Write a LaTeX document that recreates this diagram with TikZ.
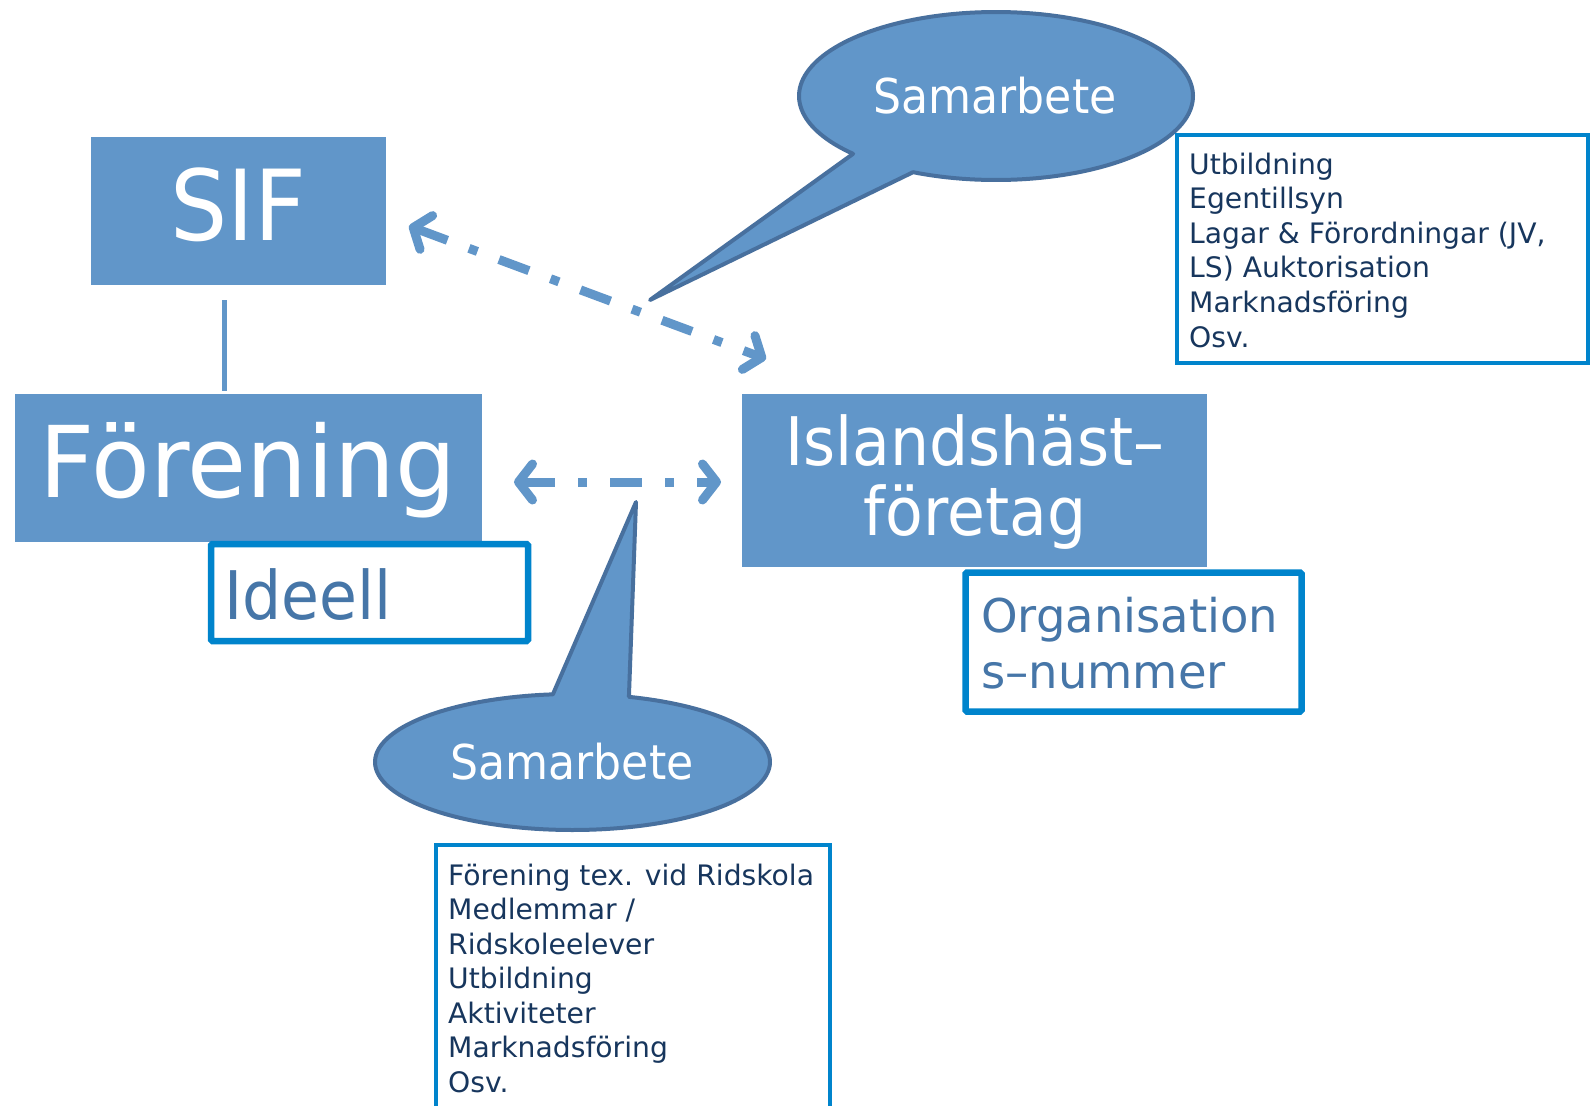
\documentclass[tikz,border=0pt]{standalone}
\usepackage{fontspec}
\setmainfont{DejaVu Sans}
\newfontfamily\bigf{DejaVu Sans}[FakeStretch=0.92]
\newfontfamily\bigw{DejaVu Sans}[FakeStretch=0.97]
\usetikzlibrary{arrows.meta}
\definecolor{boxfill}{RGB}{97,150,201}
\definecolor{ellborder}{RGB}{72,112,158}
\definecolor{listborder}{RGB}{0,132,204}
\definecolor{navy}{RGB}{23,54,93}
\definecolor{midblue}{RGB}{70,118,168}
\begin{document}
\begin{tikzpicture}[x=1pt,y=-1pt,
  bluebox/.style={fill=boxfill, draw=none, inner sep=0pt},
  whitetxt/.style={text=white, inner sep=0pt},
  tagbox/.style={fill=white, draw=listborder, line width=6.5pt, rounded corners=1.5pt, inner sep=0pt},
  listbox/.style={fill=white, draw=listborder, line width=3.5pt, inner sep=0pt},
  listtxt/.style={text=navy, inner sep=0pt, anchor=base west, font=\fontsize{28.2}{34.6}\selectfont},
  callout/.style={fill=boxfill, draw=ellborder, line width=4pt, line join=round},
  dasharrow/.style={draw=boxfill, line width=9pt, dash pattern=on 32pt off 23pt on 9pt off 23pt,
    arrows={Straight Barb[round,length=14pt,width=36pt]-Straight Barb[round,length=14pt,width=36pt]}},
  link/.style={draw=boxfill, line width=5pt}]
\clip (0,0) rectangle (1591,1106);
\fill[white] (0,0) rectangle (1591,1106);

% main boxes
\node[bluebox, minimum width=295pt, minimum height=148pt] (sif) at (238.5,211) {};
\node[bluebox, minimum width=467pt, minimum height=148pt] (foren) at (248.5,468) {};
\node[bluebox, minimum width=465pt, minimum height=173pt] (isl) at (974.5,480.5) {};

\node[whitetxt, anchor=base, font=\bigf\fontsize{98}{100}\selectfont] (siftxt) at (238,240) {SIF};
\node[whitetxt, anchor=base, font=\bigw\fontsize{99}{100}\selectfont] (forentxt) at (248,497) {Förening};
\node[whitetxt, anchor=base, font=\bigf\fontsize{67}{70}\selectfont] (isltxt1) at (975,465) {Islandshäst–};
\node[whitetxt, anchor=base, font=\bigf\fontsize{67}{70}\selectfont] (isltxt2) at (975,535) {företag};

% connector SIF - Förening
\coordinate (la) at (224,300);
\coordinate (lb) at (224,391);
\draw[link] (la) -- (lb);

% dashed double arrows
\coordinate (d1a) at (409,226);
\coordinate (d1b) at (766,359);
\draw[dasharrow] (d1a) -- (d1b);
\coordinate (d2a) at (514,482);
\coordinate (d2b) at (721,482);
\draw[dasharrow] (d2a) -- (d2b);

% callouts
\draw[callout] plot[domain=136.5:474.9, samples=160] ({996+197*cos(\x)},{96+84*sin(\x)}) -- (650,300) -- cycle;
\node[whitetxt, anchor=base, font=\bigf\fontsize{48}{50}\selectfont] (samtop) at (995,113) {Samarbete};

\draw[callout] plot[domain=286.6:624.3, samples=160] ({572.5+197.5*cos(\x)},{762+68*sin(\x)}) -- (636,502) -- cycle;
\node[whitetxt, anchor=base, font=\bigf\fontsize{48}{50}\selectfont] (sambot) at (572,779) {Samarbete};

% list boxes
\node[listbox, minimum width=411pt, minimum height=228pt] (listtop) at (1382.5,249) {};
\node[listtxt] (listtoptxt) at (1189,174) {\vtop{\baselineskip=34.6pt
  \hbox{Utbildning}\hbox{Egentillsyn}\hbox{Lagar \& Förordningar (JV,}\hbox{LS) Auktorisation}\hbox{Marknadsföring}\hbox{Osv.}}};

\node[listbox, minimum width=394pt, minimum height=280pt] (listbot) at (633,985) {};
\node[listtxt] (listbottxt) at (448,885) {\vtop{\baselineskip=34.5pt
  \hbox{Förening tex. vid Ridskola}\hbox{Medlemmar /}\hbox{Ridskoleelever}\hbox{Utbildning}\hbox{Aktiviteter}\hbox{Marknadsföring}\hbox{Osv.}}};

% tag boxes
\node[tagbox, minimum width=317pt, minimum height=97pt] (ideell) at (369.5,592.5) {};
\node[text=midblue, inner sep=0pt, anchor=base west, font=\bigf\fontsize{67}{70}\selectfont] (ideelltxt) at (224,619) {Ideell};

\node[tagbox, minimum width=336pt, minimum height=139pt] (org) at (1133.5,642) {};
\node[text=midblue, inner sep=0pt, anchor=base west, font=\fontsize{46.5}{56}\selectfont] (orgtxt) at (981,632) {\vtop{\baselineskip=56pt\hbox{Organisation}\hbox{s–nummer}}};
\end{tikzpicture}
\end{document}
